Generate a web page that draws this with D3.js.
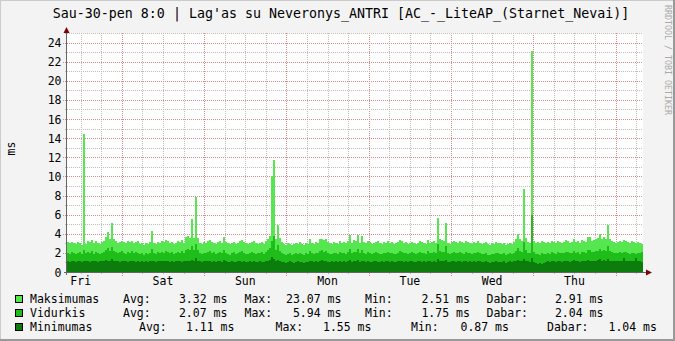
<!DOCTYPE html>
<html>
<head>
<meta charset="utf-8">
<script src="https://cdn.jsdelivr.net/npm/d3@7"></script>
<style>
  html, body { margin: 0; padding: 0; background: #f3f3f3; }
  svg { display: block; }
  text { font-family: "DejaVu Sans Mono", monospace; fill: #000; }
</style>
</head>
<body>
<svg id="chart"></svg>
<script>
const width = 675; // pixels
const height = 341; // pixels

const title = "Sau-30-pen 8:0 | Lag'as su Neveronys_ANTRI [AC_-_LiteAP_(Starnet_Nevai)]";
const yLabel = "ms";
const dayLabels = ["Fri", "Sat", "Sun", "Mon", "Tue", "Wed", "Thu"];
const yTicks = [0, 2, 4, 6, 8, 10, 12, 14, 16, 18, 20, 22, 24];

// one week, 288 samples of 35 min each
const startTime = new Date(2015, 0, 23, 8, 0);
const endTime = new Date(2015, 0, 30, 8, 0);

const maksimumas = [
  3.1,3.0,3.1,3.0,2.9,3.1,3.0,2.8,14.4,2.9,3.2,3.1,3.3,3.0,3.2,3.0,2.9,3.1,3.2,3.7,4.2,3.4,5.1,3.5,
  3.2,3.0,3.1,3.2,3.1,3.0,3.2,3.1,3.2,3.0,3.1,3.2,2.9,3.0,2.8,3.0,2.9,3.1,4.3,3.0,2.9,3.1,3.0,3.2,
  3.1,3.3,3.2,3.0,3.1,2.9,3.0,3.2,3.1,3.3,3.0,3.7,3.8,3.6,5.5,3.6,7.8,3.6,3.0,2.9,3.1,3.0,3.2,3.3,
  3.1,3.0,2.9,3.1,3.2,3.0,3.7,3.1,3.0,2.9,3.0,3.1,2.9,3.0,3.2,3.3,3.1,3.0,2.9,3.0,3.1,3.2,3.0,2.9,
  3.0,3.1,2.9,3.2,3.5,3.8,10.0,11.7,3.4,4.9,3.6,3.1,2.9,2.8,3.0,2.9,2.8,2.9,3.0,2.9,3.1,2.9,2.8,3.0,
  2.9,3.5,3.0,2.9,3.1,3.0,3.4,3.5,3.3,3.4,3.1,3.0,2.9,3.1,3.0,2.9,3.2,3.0,3.1,3.0,3.2,3.9,3.0,3.3,
  3.2,3.9,3.0,3.8,3.1,3.0,3.2,3.1,2.9,3.0,3.1,3.2,3.0,2.9,3.1,3.0,3.2,3.0,3.1,2.9,3.0,3.1,3.3,3.2,
  3.0,3.1,2.9,3.0,3.1,3.0,2.9,3.0,3.2,3.1,3.0,2.9,3.3,3.0,3.1,3.2,3.0,5.7,3.4,3.3,3.2,5.1,3.0,2.9,
  3.1,3.2,3.1,3.0,3.2,3.1,3.0,3.2,3.1,3.0,2.9,3.1,3.0,3.2,3.0,2.9,3.0,3.1,2.9,2.8,3.0,2.9,3.1,3.0,
  3.0,2.9,3.0,2.8,2.9,3.0,2.9,3.1,3.4,4.0,3.4,3.2,8.7,3.6,3.1,3.0,23.07,3.2,3.0,3.1,3.0,3.2,3.1,3.0,
  3.1,3.0,3.2,3.1,3.0,3.2,3.1,3.0,3.1,3.3,3.2,3.0,3.1,3.5,3.1,3.2,3.0,3.3,3.2,3.1,3.7,3.7,3.2,3.3,
  3.4,3.6,4.0,3.5,3.7,3.4,4.9,3.5,3.2,3.1,3.0,3.1,3.2,3.1,3.3,3.2,3.1,3.0,3.2,3.1,3.0,3.1,3.0,2.91
];

const vidurkis = [
  2.0,1.9,2.1,2.0,1.9,2.0,2.1,1.9,2.3,2.0,2.1,2.0,2.2,1.9,2.1,2.0,1.9,2.0,2.1,2.3,2.5,2.2,2.6,2.2,
  2.1,2.0,2.1,2.2,2.0,1.9,2.1,2.0,2.2,2.0,2.1,2.0,1.9,2.0,1.8,2.0,1.9,2.0,2.4,2.0,1.9,2.1,2.0,2.1,
  2.0,2.2,2.1,2.0,2.1,1.9,2.0,2.1,2.0,2.2,2.0,2.3,2.4,2.3,2.7,2.3,2.9,2.3,2.0,1.9,2.0,2.0,2.1,2.2,
  2.0,2.1,1.9,2.0,2.1,2.0,2.3,2.0,1.9,1.8,2.0,2.1,1.9,2.0,2.1,2.2,2.0,1.9,1.9,2.0,2.1,2.0,1.9,2.0,
  2.0,2.1,1.9,2.1,2.3,2.5,3.2,3.8,2.3,2.8,2.2,2.0,1.9,1.8,1.9,2.0,1.8,1.9,2.0,1.9,2.0,1.9,1.8,2.0,
  1.9,2.2,2.0,1.9,2.0,2.0,2.2,2.3,2.1,2.2,2.0,1.9,1.9,2.0,2.0,1.9,2.1,2.0,2.0,1.9,2.1,2.4,2.0,2.1,
  2.1,2.4,2.0,2.3,2.0,1.9,2.1,2.0,1.9,2.0,2.1,2.0,1.9,1.9,2.0,2.0,2.1,2.0,2.0,1.9,1.9,2.0,2.2,2.1,
  2.0,2.0,1.9,2.0,2.1,2.0,1.9,2.0,2.1,2.0,2.0,1.9,2.2,2.0,2.0,2.1,2.0,2.9,2.2,2.1,2.1,2.7,2.0,1.9,
  2.0,2.1,2.0,2.0,2.1,2.0,1.9,2.1,2.0,2.0,1.9,2.0,2.0,2.1,2.0,1.9,1.9,2.0,1.8,1.75,1.9,1.9,2.0,2.0,
  1.9,1.9,2.0,1.8,1.9,2.0,1.9,2.0,2.2,2.5,2.2,2.1,3.1,2.3,2.0,2.0,5.94,2.1,1.9,1.9,1.8,2.0,1.9,1.9,
  2.0,1.9,2.1,2.0,1.9,2.1,2.0,2.0,2.0,2.1,2.1,2.0,2.0,2.2,2.0,2.1,1.9,2.1,2.1,2.0,2.3,2.3,2.1,2.1,
  2.2,2.2,2.4,2.2,2.3,2.2,2.7,2.2,2.1,2.0,2.0,2.0,2.1,2.0,2.1,2.1,2.0,1.9,2.0,2.0,1.9,2.0,2.0,2.04
];

const minimumas = [
  1.1,1.0,1.2,1.1,1.0,1.1,1.2,1.0,1.1,1.1,1.2,1.0,1.1,1.2,1.1,1.0,1.1,1.2,1.1,1.3,1.2,1.1,1.4,1.1,
  1.2,1.1,1.0,1.1,1.2,1.1,1.0,1.1,1.2,1.1,1.0,1.1,1.0,1.1,1.0,1.1,1.0,1.1,1.2,1.1,1.0,1.1,1.2,1.1,
  1.1,1.2,1.1,1.0,1.1,1.0,1.1,1.2,1.1,1.0,1.1,1.2,1.1,1.2,1.3,1.1,1.5,1.2,1.1,1.0,1.1,1.1,1.2,1.1,
  1.0,1.1,1.0,1.1,1.2,1.0,1.3,1.1,1.0,1.0,1.1,1.0,1.0,1.1,1.2,1.0,1.1,1.0,1.0,1.1,1.0,1.1,1.0,1.0,
  1.1,1.0,1.0,1.1,1.2,1.3,1.55,1.4,1.1,1.3,1.1,1.0,1.0,0.95,1.0,1.1,1.0,0.95,1.0,1.1,1.0,1.0,0.95,1.0,
  1.0,1.2,1.1,1.0,1.1,1.0,1.2,1.3,1.1,1.2,1.0,1.0,1.1,1.0,1.1,1.0,1.2,1.0,1.1,1.0,1.1,1.3,1.0,1.1,
  1.1,1.3,1.0,1.2,1.1,1.0,1.1,1.0,1.0,1.1,1.2,1.0,1.0,1.1,1.0,1.1,1.2,1.0,1.1,1.0,1.0,1.1,1.2,1.1,
  1.0,1.1,1.0,1.1,1.2,1.0,1.0,1.1,1.2,1.0,1.1,1.0,1.2,1.1,1.0,1.1,1.0,1.4,1.2,1.1,1.1,1.3,1.0,1.0,
  1.1,1.2,1.0,1.1,1.2,1.0,1.1,1.2,1.0,1.1,1.0,1.1,1.0,1.2,1.1,1.0,1.0,1.1,1.0,0.95,1.0,1.0,1.1,1.0,
  1.0,1.0,1.1,0.95,1.0,1.1,1.0,1.1,1.2,1.3,1.2,1.1,1.4,1.2,1.1,1.0,1.5,1.0,0.9,0.87,0.9,0.88,0.95,1.0,
  1.1,1.0,1.1,1.2,1.0,1.1,1.2,1.0,1.1,1.2,1.1,1.0,1.1,1.3,1.1,1.2,1.0,1.1,1.2,1.1,1.3,1.2,1.1,1.2,
  1.2,1.3,1.4,1.2,1.3,1.2,1.4,1.2,1.1,1.2,1.1,1.2,1.2,1.1,1.5,1.1,1.2,1.2,1.1,1.2,1.5,1.2,1.1,1.04
];

// legend (as printed by the graph)
const seriesNames = ["Maksimumas", "Vidurkis", "Minimumas"];
const seriesColors = ["#56e650", "#1fbd1a", "#0c7d0c"];
const statLabels = ["Avg:", "Max:", "Min:", "Dabar:"];
const statAvg = ["3.32", "2.07", "1.11"];
const statMax = ["23.07", "5.94", "1.55"];
const statMin = ["2.51", "1.75", "0.87"];
const statNow = ["2.91", "2.04", "1.04"];

/**
 * Layout.
 */
const plot = {left: 67, right: 643, top: 33, bottom: 272};
const gridGrey = "#bdbdbd";
const gridRed = "#d98a8a";

const svg = d3.select("#chart")
  .attr("width", width)
  .attr("height", height);

svg.append("rect")
  .attr("width", width).attr("height", height)
  .attr("fill", "#f3f3f3");

// 3d frame like rrdtool
svg.append("path").attr("d", `M0,${height}V0H${width}`)
  .attr("fill", "none").attr("stroke", "#cbcbcb").attr("stroke-width", 2);
svg.append("path").attr("d", `M0,${height - 1}H${width - 1}V0`)
  .attr("fill", "none").attr("stroke", "#999").attr("stroke-width", 2);

svg.append("rect")
  .attr("x", plot.left).attr("y", plot.top)
  .attr("width", plot.right - plot.left).attr("height", plot.bottom - plot.top)
  .attr("fill", "#fff");

const x = d3.scaleTime([startTime, endTime], [plot.left, plot.right]);
const y = d3.scaleLinear([0, 25], [plot.bottom, plot.top]);

/**
 * Grid.
 */
const grid = svg.append("g")
  .attr("fill", "none")
  .attr("stroke-width", 1)
  .attr("stroke-dasharray", "1,1")
  .attr("shape-rendering", "crispEdges");

const sixHours = d3.timeHour.every(6).range(startTime, endTime);
grid.selectAll(".vgrid")
  .data(sixHours)
  .join("line")
  .attr("x1", d => Math.round(x(d)) + 0.5)
  .attr("x2", d => Math.round(x(d)) + 0.5)
  .attr("y1", plot.top)
  .attr("y2", d => plot.bottom + (d.getHours() === 0 ? 4 : 2))
  .attr("stroke", d => d.getHours() === 0 ? gridRed : gridGrey);

grid.selectAll(".hgrid")
  .data(d3.range(1, 26))
  .join("line")
  .attr("x1", d => plot.left - (d % 2 === 0 ? 4 : 2))
  .attr("x2", plot.right)
  .attr("y1", d => Math.round(y(d)) + 0.5)
  .attr("y2", d => Math.round(y(d)) + 0.5)
  .attr("stroke", d => d % 2 === 0 ? gridRed : gridGrey);

/**
 * Areas: max, then average, then minimum on top.
 */
const sampleMs = (endTime - startTime) / maksimumas.length;
const toSteps = values => {
  const pts = values.map((v, i) => ({t: new Date(+startTime + i * sampleMs), v}));
  pts.push({t: endTime, v: values[values.length - 1]});
  return pts;
};

const area = d3.area()
  .x(d => x(d.t))
  .y0(y(0))
  .y1(d => y(d.v))
  .curve(d3.curveStepAfter);

svg.append("g")
  .attr("shape-rendering", "crispEdges")
  .selectAll("path")
  .data([maksimumas, vidurkis, minimumas])
  .join("path")
  .attr("fill", (d, i) => seriesColors[i])
  .attr("d", d => area(toSteps(d)));

/**
 * Axes with arrows.
 */
const axisColor = "#666";
const arrowColor = "#7f0000";
svg.append("line")
  .attr("x1", plot.left - 0.5).attr("x2", plot.left - 0.5)
  .attr("y1", plot.bottom + 3).attr("y2", plot.top - 1)
  .attr("stroke", axisColor);
svg.append("line")
  .attr("x1", plot.left - 3).attr("x2", plot.right + 3)
  .attr("y1", plot.bottom + 0.5).attr("y2", plot.bottom + 0.5)
  .attr("stroke", axisColor);
svg.append("path")
  .attr("d", `M${plot.left - 3.5},${plot.top}L${plot.left - 0.5},${plot.top - 6}L${plot.left + 2.5},${plot.top}Z`)
  .attr("fill", arrowColor);
svg.append("path")
  .attr("d", `M${plot.right + 3},${plot.bottom - 2.5}L${plot.right + 9},${plot.bottom + 0.5}L${plot.right + 3},${plot.bottom + 3.5}Z`)
  .attr("fill", arrowColor);

/**
 * Labels.
 */
svg.append("g")
  .attr("font-size", 11.5)
  .attr("text-anchor", "end")
  .selectAll("text")
  .data(yTicks)
  .join("text")
  .attr("x", plot.left - 5.5)
  .attr("y", d => y(d) + 4.5)
  .text(d => d);

const noons = d3.timeDay.range(startTime, endTime).map(d => d3.timeHour.offset(d, 12));
noons.unshift(d3.timeHour.offset(d3.timeDay.floor(startTime), 12));
svg.append("g")
  .attr("font-size", 11.5)
  .attr("text-anchor", "middle")
  .selectAll("text")
  .data(noons.slice(0, dayLabels.length))
  .join("text")
  .attr("x", d => x(d))
  .attr("y", 285)
  .text((d, i) => dayLabels[i]);

svg.append("text")
  .attr("font-size", 11.5)
  .attr("text-anchor", "middle")
  .attr("transform", `translate(15,${(plot.top + plot.bottom) / 2 - 4}) rotate(-90)`)
  .text(yLabel);

svg.append("text")
  .attr("font-size", 13.3)
  .attr("text-anchor", "middle")
  .attr("x", 341)
  .attr("y", 17.5)
  .text(title);

svg.append("text")
  .attr("font-size", 8.3)
  .style("fill", "#aaa")
  .attr("transform", "translate(665,5) rotate(90)")
  .text("RRDTOOL / TOBI OETIKER");

/**
 * Legend.
 */
const legendRowY = [303, 317, 331];
// x of: name, Avg:, value, Max:, value, Min:, value, Dabar:, value
const legendCols = [
  [30, 123, 172, 244.5, 286, 365, 414.5, 486.5, 548],
  [30, 123, 172, 244.5, 286, 365, 414.5, 486.5, 548],
  [30, 139, 186, 275.5, 323, 411, 460.5, 547, 608.5]
];

const legend = svg.append("g").attr("font-size", 11.5);
seriesNames.forEach((name, i) => {
  const cy = legendRowY[i];
  const cols = legendCols[i];
  legend.append("rect")
    .attr("x", 15.5).attr("y", cy - 7.5)
    .attr("width", 7).attr("height", 7)
    .attr("fill", seriesColors[i])
    .attr("stroke", "#000");
  const values = [statAvg[i], statMax[i], statMin[i], statNow[i]];
  const pieces = [name];
  statLabels.forEach((lab, k) => {
    pieces.push(lab);
    pieces.push(values[k].padStart(i === 0 || i === 1 ? 5 : 4, " ") + " ms");
  });
  pieces.forEach((p, k) => {
    legend.append("text")
      .attr("x", cols[k])
      .attr("y", cy)
      .attr("xml:space", "preserve")
      .style("white-space", "pre")
      .text(p);
  });
});
</script>
</body>
</html>
